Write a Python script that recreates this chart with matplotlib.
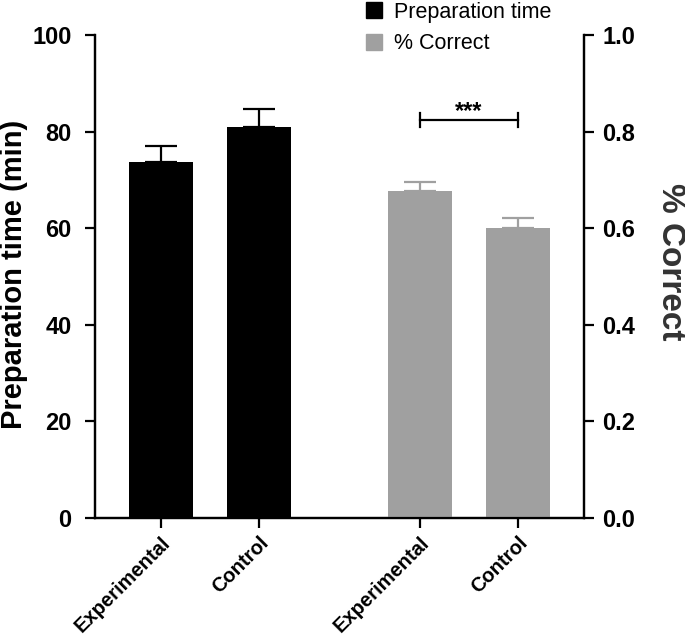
import matplotlib
matplotlib.use("Agg")
import matplotlib.pyplot as plt
from matplotlib.patches import Patch

plt.rcParams['font.family'] = ['Liberation Sans', 'DejaVu Sans']

categories = ["Experimental", "Control", "Experimental", "Control"]
prep_time = [73.8, 81.0]
prep_err = [3.3, 3.6]
pct_correct = [0.676, 0.601]
pct_err = [0.019, 0.020]
left_ticks = [0, 20, 40, 60, 80, 100]
right_ticks = [0.0, 0.2, 0.4, 0.6, 0.8, 1.0]

x_prep = [0, 1]
x_pct = [2.64, 3.64]
width = 0.653
gray = "#a0a0a0"

fig = plt.figure(figsize=(6.85, 6.36), dpi=100)
ax = fig.add_axes([0.1387, 0.1855, 0.7139, 0.7595])
ax2 = ax.twinx()

ax.bar(x_prep, prep_time, width, color="black", zorder=2)
ax.errorbar(x_prep, prep_time, yerr=[[0, 0], prep_err], fmt="none", ecolor="black",
            elinewidth=1.6, capsize=11.5, capthick=1.6, zorder=1)
ax2.bar(x_pct, pct_correct, width, color=gray, zorder=2)
ax2.errorbar(x_pct, pct_correct, yerr=[[0, 0], pct_err], fmt="none", ecolor=gray,
             elinewidth=1.6, capsize=11.5, capthick=1.6, zorder=1)

# significance bracket
ax2.plot([x_pct[0], x_pct[1]], [0.824, 0.824], color="black", lw=1.6)
ax2.plot([x_pct[0], x_pct[0]], [0.810, 0.838], color="black", lw=1.6)
ax2.plot([x_pct[1], x_pct[1]], [0.810, 0.838], color="black", lw=1.6)
ax2.text((x_pct[0] + x_pct[1]) / 2, 0.841, "***", ha="center", va="center",
         fontsize=17, fontweight="bold")

ax.set_xlim(-0.673, 3.64 + 0.673)
ax.set_ylim(0, 100)
ax2.set_ylim(0, 1.0)
ax.set_yticks(left_ticks)
ax2.set_yticks(right_ticks)
ax2.set_yticklabels([f"{t:.1f}" for t in right_ticks])

ax.set_xticks(x_prep + x_pct)
ax.set_xticklabels(categories, rotation=45, ha="right", rotation_mode="anchor",
                   fontsize=14.5, fontweight="bold")

for a in (ax, ax2):
    a.spines["top"].set_visible(False)
    for s in ("left", "right", "bottom"):
        a.spines[s].set_linewidth(1.6)
    a.tick_params(width=1.6, length=7, labelsize=17)
    for lab in a.get_yticklabels():
        lab.set_fontweight("bold")
ax.tick_params(axis="y", pad=10)
ax2.tick_params(axis="y", pad=6)
ax.tick_params(axis="x", length=7, labelsize=14.5, pad=4)

ax.set_ylabel("Preparation time (min)", fontsize=21, fontweight="bold")
ax.yaxis.set_label_coords(-0.166, 0.505)
ax.yaxis.label.set_va("center")
ax2.set_ylabel("% Correct", fontsize=24, fontweight="bold", rotation=270,
               color="#333333")
ax2.yaxis.set_label_coords(1.176, 0.53)
ax2.yaxis.label.set_va("center")

handles = [Patch(facecolor="black", edgecolor="black"),
           Patch(facecolor=gray, edgecolor=gray)]
fig.legend(handles, ["Preparation time", "% Correct"], loc="upper left",
           bbox_to_anchor=(0.506, 1.028), frameon=False, fontsize=15.5,
           handlelength=0.75, handleheight=0.75, handletextpad=0.55, labelspacing=0.5)

fig.savefig("out.png", dpi=100)
